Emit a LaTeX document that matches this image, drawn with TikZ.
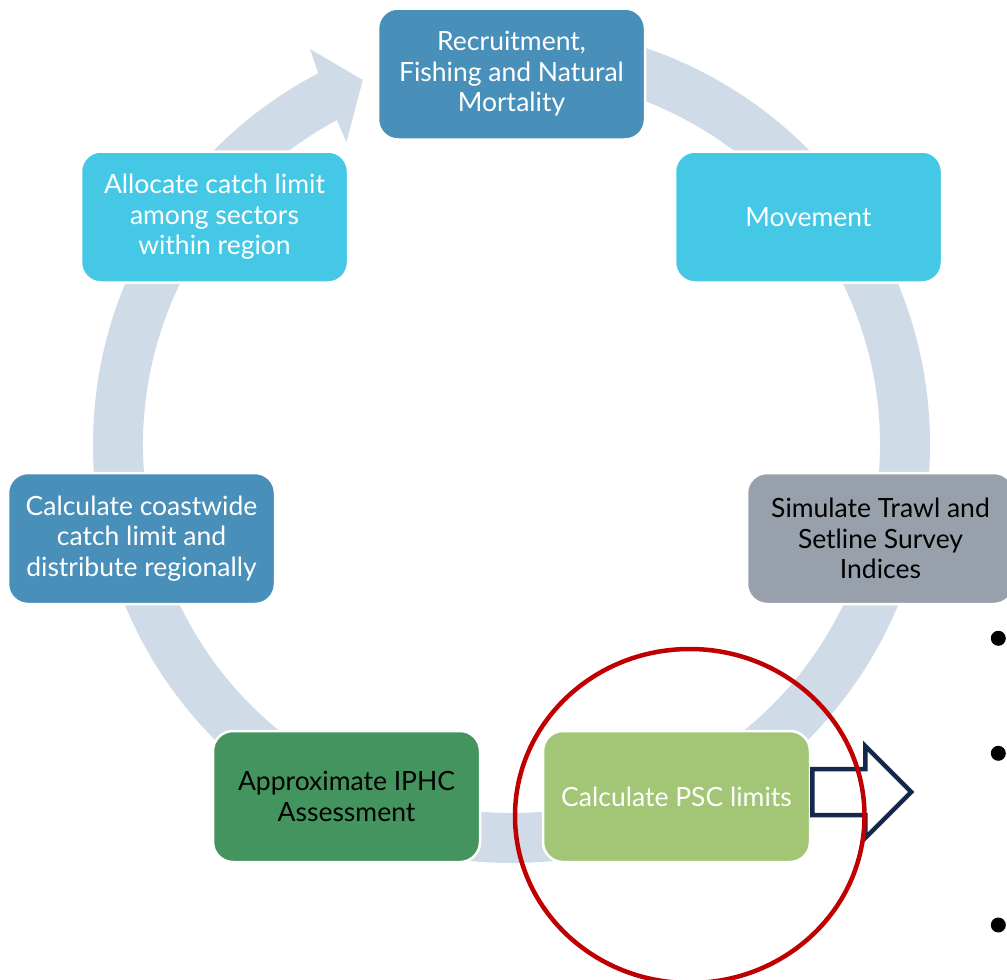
\documentclass[tikz,border=0pt]{standalone}
\usepackage{fontspec}
\setmainfont{Lato}
\usetikzlibrary{calc}
\definecolor{steel}{HTML}{488FB9}
\definecolor{aqua}{HTML}{45C8E6}
\definecolor{slate}{HTML}{98A1AB}
\definecolor{leaf}{HTML}{A3C676}
\definecolor{forest}{HTML}{43945E}
\definecolor{ringc}{HTML}{CFDBE7}
\definecolor{focusred}{HTML}{C00000}
\definecolor{navy}{HTML}{13284B}
\begin{document}
\begin{tikzpicture}[x=1pt,y=1pt,
  stage/.style={rounded corners=20pt, minimum width=267pt, minimum height=131pt,
    draw=white, line width=2.5pt, align=center, inner sep=0pt,
    font=\fontsize{26.5}{30.5}\selectfont},
  lighttext/.style={text=white},
  darktext/.style={text=black},
  bullet/.style={circle, fill=black, minimum size=15pt, inner sep=0pt}]
\useasboundingbox (0,0) rectangle (1007,-980);
\clip (0,0) rectangle (1007,-980);

% cycle ring with its arrowhead
\coordinate (C) at (511.5,-444.5);
\fill[ringc] ($(C)+(90:418.5)$) arc[start angle=90, end angle=-242.5, radius=418.5]
  -- ($(C)+(-243:443.9)$) -- ($(C)+(-247.8:393.7)$) -- ($(C)+(-241.4:344.7)$)
  -- ($(C)+(-241.7:368.5)$) arc[start angle=-241.7, end angle=90, radius=368.5] -- cycle;

% process stages
\node[stage, fill=steel, lighttext] (recruit) at (511.5,-74) {Recruitment,\\Fishing and Natural\\Mortality};
\node[stage, fill=aqua, lighttext] (move) at (808.5,-217) {Movement};
\node[stage, fill=slate, darktext] (survey) at (880.5,-538.5) {Simulate Trawl and\\Setline Survey\\Indices};
\node[stage, fill=leaf, lighttext] (psc) at (676.5,-796.5) {Calculate PSC limits};
\node[stage, fill=forest, darktext] (assess) at (346.5,-796.5) {Approximate IPHC\\Assessment};
\node[stage, fill=steel, lighttext] (coast) at (141.5,-538.5) {Calculate coastwide\\catch limit and\\distribute regionally};
\node[stage, fill=aqua, lighttext] (alloc) at (214.5,-217) {Allocate catch limit\\among sectors\\within region};

% outlined block arrow leaving the PSC stage
\draw[navy, line width=4.5pt, fill=white, line join=miter, shift={(psc.east)}]
  (1,27.5) -- (54,27.5) -- (54,50.5) -- (100,4.5) -- (54,-41.5) -- (54,-18.5) -- (1,-18.5) -- cycle;

% highlight ring
\draw[focusred, line width=4.5pt] (689.75,-816) ellipse [x radius=174.75, y radius=167];

% list bullets
\node[bullet] (b1) at (998.3,-638.3) {};
\node[bullet] (b2) at (998.3,-753.3) {};
\node[bullet] (b3) at (998.3,-925) {};
\end{tikzpicture}
\end{document}
